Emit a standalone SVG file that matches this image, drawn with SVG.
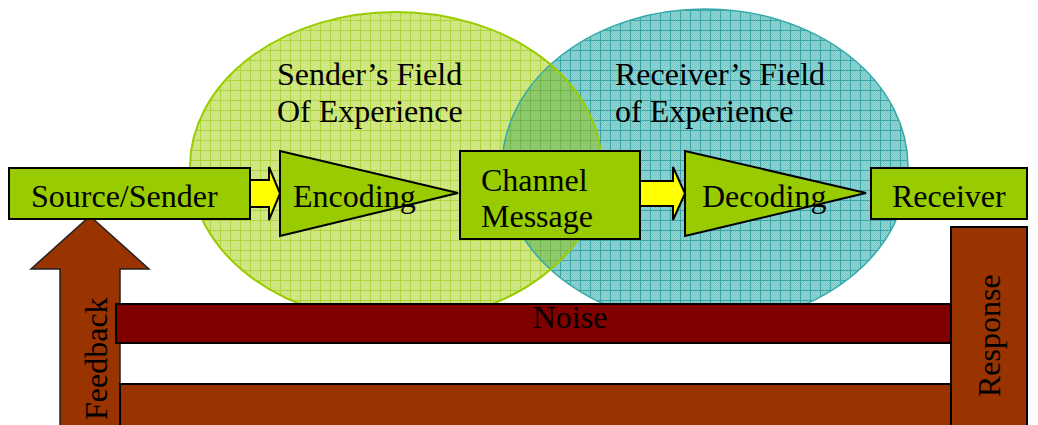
<svg xmlns="http://www.w3.org/2000/svg" width="1038" height="425" viewBox="0 0 1038 425">
<style>
  .t { font-family: "Liberation Serif", "Times New Roman", serif; font-size: 32px; fill: #000; }
  .box { fill: #99cc00; stroke: #000; stroke-width: 2; }
  .arr { fill: #ffff00; stroke: #000; stroke-width: 2; stroke-linejoin: miter; }
  .brown { fill: #993300; stroke: #000; stroke-width: 2; }
</style>
<defs>
  <pattern id="chkG" width="2" height="2" patternUnits="userSpaceOnUse">
    <rect width="2" height="2" fill="#d6eb90"/>
    <rect width="1" height="1" fill="#c9e278"/>
    <rect x="1" y="1" width="1" height="1" fill="#c9e278"/>
  </pattern>
  <pattern id="gridG" width="10" height="10" patternUnits="userSpaceOnUse">
    <rect width="10" height="10" fill="url(#chkG)"/>
    <path d="M0 0.5H10M0.5 0V10" stroke="#b0d43c" stroke-width="1"/>
  </pattern>
  <pattern id="chkB" width="2" height="2" patternUnits="userSpaceOnUse">
    <rect width="2" height="2" fill="#92d6d6"/>
    <rect width="1" height="1" fill="#78c6c6"/>
    <rect x="1" y="1" width="1" height="1" fill="#78c6c6"/>
  </pattern>
  <pattern id="gridB" width="10" height="10" patternUnits="userSpaceOnUse">
    <rect width="10" height="10" fill="url(#chkB)"/>
    <path d="M0 0.5H10M0.5 0V10" stroke="#3aa6a6" stroke-width="1"/>
  </pattern>
  <pattern id="chkO" width="2" height="2" patternUnits="userSpaceOnUse">
    <rect width="2" height="2" fill="#94cd72"/>
    <rect width="1" height="1" fill="#86c566"/>
    <rect x="1" y="1" width="1" height="1" fill="#86c566"/>
  </pattern>
  <pattern id="gridO" width="10" height="10" patternUnits="userSpaceOnUse">
    <rect width="10" height="10" fill="url(#chkO)"/>
    <path d="M0 0.5H10M0.5 0V10" stroke="#72b64a" stroke-width="1"/>
  </pattern>
  <clipPath id="blueClip">
    <ellipse cx="705" cy="167" rx="203" ry="158"/>
  </clipPath>
</defs>
<rect width="1038" height="425" fill="#ffffff"/>

<g id="sender-field">
  <ellipse cx="396" cy="167" rx="206" ry="155" fill="url(#gridG)"/>
</g>
<g id="receiver-field">
  <ellipse cx="705" cy="167" rx="203" ry="158" fill="url(#gridB)"/>
  <ellipse cx="396" cy="167" rx="206" ry="155" fill="url(#gridO)" clip-path="url(#blueClip)"/>
  <ellipse cx="705" cy="167" rx="203" ry="158" fill="none" stroke="#33a9a9" stroke-width="1.5"/>
  <ellipse cx="396" cy="167" rx="206" ry="155" fill="none" stroke="#99cc00" stroke-width="2"/>
</g>
<g id="field-labels">
  <text class="t" x="277" y="85">Sender’s Field</text>
  <text class="t" x="277" y="122">Of Experience</text>
  <text class="t" x="615" y="85">Receiver’s Field</text>
  <text class="t" x="615" y="122">of Experience</text>
</g>

<g id="feedback">
  <path d="M90 216 L149 269 L120 269 L120 430 L60 430 L60 269 L31 269 Z" fill="#993300" stroke="#222" stroke-width="1.5"/>
  <text class="t" transform="translate(107,420) rotate(-90)">Feedback</text>
</g>
<g id="bottom-bar">
  <rect x="120" y="384" width="831" height="50" fill="#993300" stroke="#000" stroke-width="2"/>
</g>
<g id="noise">
  <rect x="116" y="304" width="835" height="39" fill="#800000" stroke="#000" stroke-width="2"/>
  <text class="t" x="570" y="328" text-anchor="middle">Noise</text>
</g>
<g id="response">
  <rect x="951" y="227" width="76" height="210" class="brown"/>
  <text class="t" transform="translate(1000,397) rotate(-90)">Response</text>
</g>

<g id="connectors">
  <path class="arr" d="M250 180 H269 V167 L280 193.5 L269 220 V207 H250 Z"/>
  <path class="arr" d="M640 181 H673 V167 L685 193.5 L673 220 V206 H640 Z"/>
</g>

<g id="source-sender">
  <rect class="box" x="9" y="168" width="241" height="51"/>
  <text class="t" x="31" y="207">Source/Sender</text>
</g>
<g id="encoding">
  <path class="box" d="M280 151 L280 236 L458 193 Z"/>
  <text class="t" x="293" y="207">Encoding</text>
</g>
<g id="channel-message">
  <rect class="box" x="460" y="151" width="180" height="88"/>
  <text class="t" x="481" y="191">Channel</text>
  <text class="t" x="481" y="227">Message</text>
</g>
<g id="decoding">
  <path class="box" d="M685 151 L685 236 L866 193 Z"/>
  <text class="t" x="702" y="207">Decoding</text>
</g>
<g id="receiver">
  <rect class="box" x="871" y="168" width="156" height="51"/>
  <text class="t" x="892" y="207">Receiver</text>
</g>
</svg>
